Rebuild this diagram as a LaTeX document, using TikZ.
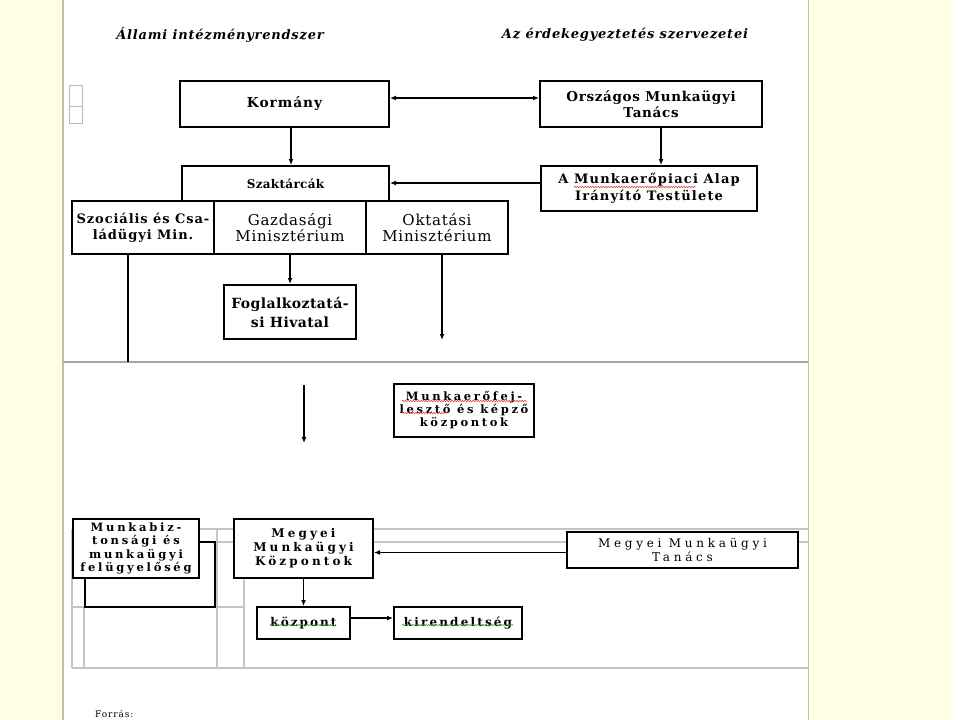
\documentclass[tikz,border=0pt]{standalone}
\usepackage{fontspec}
\setmainfont{DejaVu Serif}
\usetikzlibrary{arrows.meta,decorations.pathmorphing,calc}
\newcommand{\fbx}[3]{\fontsize{#1}{#2}\selectfont\bfseries\addfontfeature{LetterSpace=#3}}
\newcommand{\frx}[3]{\fontsize{#1}{#2}\selectfont\addfontfeature{LetterSpace=#3}}
\newcommand{\fix}[3]{\fontsize{#1}{#2}\selectfont\bfseries\itshape\addfontfeature{LetterSpace=#3}}
\definecolor{paleyel}{RGB}{255,255,230}
\definecolor{pageedge}{RGB}{196,192,160}
\definecolor{gridgray}{RGB}{196,196,196}
\definecolor{midgray}{RGB}{165,165,165}
\definecolor{spellred}{RGB}{225,50,50}
\definecolor{spellgreen}{RGB}{50,160,70}
\tikzset{
  box/.style={draw=black, line width=2pt, fill=white, inner sep=0pt, align=center},
  conn/.style={line width=1.2pt},
  arr/.style={conn, -{Latex[length=6pt,width=5pt]}},
  darr/.style={conn, {Latex[length=6pt,width=5pt]}-{Latex[length=6pt,width=5pt]}},
  gridline/.style={draw=gridgray, line width=1.6pt},
  spellr/.style={draw=spellred, line width=0.5pt, decorate, decoration={snake, amplitude=0.7pt, segment length=2.6pt}},
  spellg/.style={draw=spellgreen, line width=0.5pt, decorate, decoration={snake, amplitude=0.7pt, segment length=2.6pt}},
}
\begin{document}
\begin{tikzpicture}[x=1pt,y=-1pt]
\useasboundingbox (0,0) rectangle (959,720);
% background and page
\fill[paleyel] (0,0) rectangle (953,720);
\fill[white] (953,0) rectangle (959,720);
\fill[white] (63,0) rectangle (808,720);
\draw[pageedge, line width=1.2pt] (63,0) -- (63,720);
\draw[pageedge, line width=1.2pt] (808.5,0) -- (808.5,720);

% small grey boxes at top left
\draw[gray!55, line width=1pt] (69,85) rectangle (82,106);
\draw[gray!55, line width=1pt] (69,106) rectangle (82,123);

% horizontal separator
\draw[midgray, line width=1.3pt] (63,362) -- (808,362);

% grey table grid at the bottom
\draw[gridline] (72,529) -- (808,529);
\draw[gridline] (199,542) -- (808,542);
\draw[gridline] (72,668) -- (808,668);
\draw[gridline] (72,607) -- (244,607);
\draw[gridline] (72,529) -- (72,668);
\draw[gridline] (84,607) -- (84,668);
\draw[gridline] (217,529) -- (217,668);
\draw[gridline] (244,529) -- (244,668);

% headers
\node[font={\fix{13}{16}{6}}] (h1) at (220,35) {Állami intézményrendszer};
\node[font={\fix{13}{16}{6}}] (h2) at (625,35) {Az érdekegyeztetés szervezetei};

% boxes
\node[box, minimum width=209pt, minimum height=46pt, font={\fbx{13.7}{16}{7}}] (kormany) at (284.5,104) {Kormány};
\node[box, minimum width=222pt, minimum height=46pt, font={\fbx{13.5}{16}{5}}] (omt) at (651,104) {Országos Munkaügyi\\Tanács};
\node[box, minimum width=207pt, minimum height=36pt, font={\fbx{12}{15}{2.5}}] (szak) at (285.5,184) {Szaktárcák};
\node[box, minimum width=216pt, minimum height=45pt, font={\fbx{13}{17}{9}}] (mpa) at (649,188.5) {A Munkaerőpiaci Alap\\Irányító Testülete};
\node[box, minimum width=142pt, minimum height=53pt, font={\fbx{13}{16}{7}}] (szoc) at (143,227.5) {Szociális és Csa-\\ládügyi Min.};
\node[box, minimum width=152pt, minimum height=53pt, font={\frx{15}{16.5}{5}}] (gazd) at (290,227.5) {Gazdasági\\Minisztérium};
\node[box, minimum width=142pt, minimum height=53pt, font={\frx{15}{16.5}{5}}] (okt) at (437,227.5) {Oktatási\\Minisztérium};
\node[box, minimum width=132pt, minimum height=54pt, font={\fbx{14}{19}{3}}] (fogl) at (290,312) {Foglalkoztatá-\\si Hivatal};
\node[box, minimum width=140pt, minimum height=53pt, font={\fbx{11.5}{13}{23}}] (mfk) at (464,410.5) {Munkaerőfej-\\lesztő és képző\\központok};
\node[box, minimum width=126pt, minimum height=59pt, font={\fbx{11.5}{13.3}{24}}] (mbz) at (136,548.5) {Munkabiz-\\tonsági és\\munkaügyi\\felügyelőség};
\node[box, minimum width=139pt, minimum height=59pt, font={\fbx{12}{14}{26}}] (mmk) at (303.5,548.5) {Megyei\\Munkaügyi\\Központok};
\node[box, minimum width=231pt, minimum height=36pt, font={\frx{12}{13.5}{31}}] (mmt) at (682.5,550) {Megyei Munkaügyi\\Tanács};
\node[box, minimum width=93pt, minimum height=32pt, font={\fbx{12}{15}{17}}] (kozp) at (303.5,623) {központ};
\node[box, minimum width=128pt, minimum height=32pt, font={\fbx{12}{15}{18}}] (kir) at (458,623) {kirendeltség};

% free ends
\coordinate (szocend) at (128,362);
\coordinate (oktend) at (442,340);
\coordinate (midtop) at (304,385);
\coordinate (midbot) at (304,443);
\coordinate (lp1) at (215,542);
\coordinate (lp2) at (215,607);
\coordinate (lp3) at (85,607);

% connectors
\draw[darr] ([yshift=6pt]kormany.east) -- ([yshift=6pt]omt.west);
\draw[arr] ([xshift=6.5pt]kormany.south) -- ([xshift=6.5pt]kormany.south |- szak.north);
\draw[arr] ([xshift=10pt]omt.south) -- ([xshift=10pt]omt.south |- mpa.north);
\draw[arr] ([yshift=5.5pt]mpa.west) -- ([yshift=5.5pt]mpa.west -| szak.east);
\draw[conn] (szoc.south -| szocend) -- (szocend);
\draw[arr] (gazd.south) -- (fogl.north);
\draw[arr] (okt.south -| oktend) -- (oktend);
\draw[arr] (midtop) -- (midbot);
\draw[arr] ([yshift=-2.5pt]mmt.west) -- ([yshift=-2.5pt]mmt.west -| mmk.east);
\draw[arr] (mmk.south) -- (kozp.north);
\draw[arr] ([yshift=5pt]kozp.east) -- ([yshift=5pt]kozp.east -| kir.west);
\draw[line width=1.8pt] (mbz.east |- lp1) -- (lp1) -- (lp2) -- (lp3) -- (lp3 |- mbz.south);

% spell-check underlines
\draw[spellr] (574,187) -- (696,187);
\draw[spellr] (402,401) -- (527,401);
\draw[spellr] (402,413) -- (446,413);
\draw[spellg] (270,625) -- (336,625);
\draw[spellg] (402,625) -- (513,625);

% footer
\node[anchor=base west, font={\frx{9}{11}{10}}, inner sep=0pt] (src) at (95,717) {Forrás:};
\end{tikzpicture}
\end{document}
